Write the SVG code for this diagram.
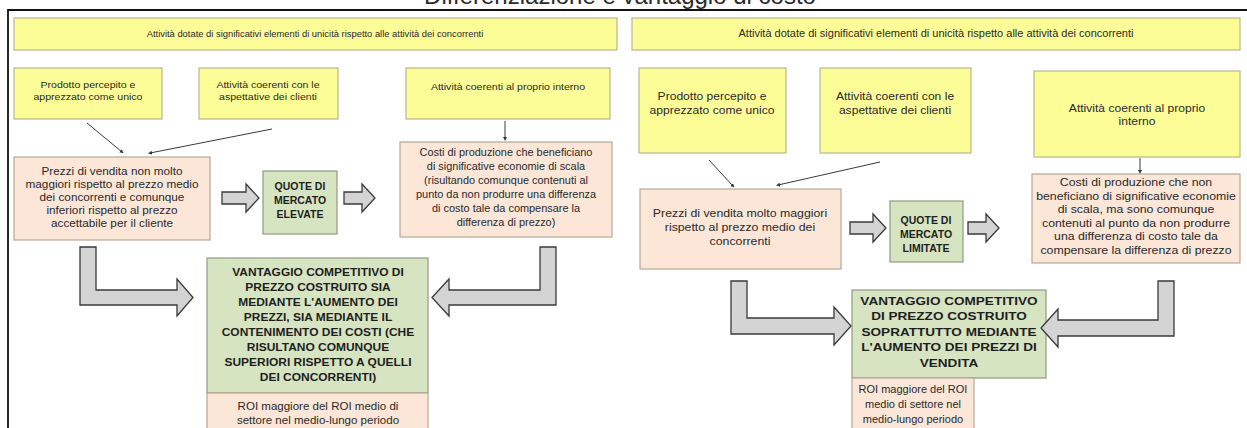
<svg xmlns="http://www.w3.org/2000/svg" width="1247" height="428" viewBox="0 0 1247 428">
  <style>
    .t { font-family: "Liberation Sans", Arial, sans-serif; fill: #2a2a2a; text-anchor: middle;
         transform-box: fill-box; transform-origin: 50% 50%; }
    .s { font-size: 10.5px; }
    .m { font-size: 11px; }
    .sm { font-size: 9.6px; }
    .b { font-size: 10.5px; font-weight: bold; fill: #1e1e1e; }
    .bl { font-size: 11.5px; font-weight: bold; fill: #1e1e1e; }
    .w04 { transform: scaleX(1.04); }
    .w10 { transform: scaleX(1.1); }
    .w12 { transform: scaleX(1.12); }
    .w14 { transform: scaleX(1.14); }
    .w15 { transform: scaleX(1.15); }
    .w18 { transform: scaleX(1.18); }
    .yel { fill: #fdfd98; stroke: #b8b890; stroke-width: 1.2; }
    .sal { fill: #fbe6d8; stroke: #b5a898; stroke-width: 1.2; }
    .grn { fill: #d7e4c2; stroke: #8f9c7e; stroke-width: 1.2; }
    .blk { fill: #d4d4d4; stroke: #3a3a3a; stroke-width: 1.3; stroke-linejoin: miter; }
    .ln { stroke: #3a3a3a; stroke-width: 1; fill: none; marker-end: url(#tip); }
  </style>
  <defs>
    <marker id="tip" viewBox="0 0 6 6" refX="3" refY="3" markerWidth="4" markerHeight="4" orient="auto">
      <path d="M0,0 L6,3 L0,6 Z" fill="#3a3a3a"/>
    </marker>
  </defs>

  <rect width="1247" height="428" fill="#ffffff"/>

  <!-- heading, clipped by the top edge -->
  <text class="t" x="620" y="4" font-size="24" fill="#222">Differenziazione e vantaggio di costo</text>

  <!-- outer frame -->
  <path d="M1247,10 H8 V428" fill="none" stroke="#111" stroke-width="1.8"/>

  <!-- ========== LEFT PANEL ========== -->
  <g id="l-banner">
    <rect class="yel" x="14" y="18" width="603" height="32"/>
    <text class="t" x="315" y="37" font-size="9.4">Attività dotate di significativi elementi di unicità rispetto alle attività dei concorrenti</text>
  </g>
  <g id="l-prodotto">
    <rect class="yel" x="14" y="68" width="148" height="51"/>
    <text class="t sm w10" x="88" y="88">Prodotto percepito e</text>
    <text class="t sm w10" x="88" y="100">apprezzato come unico</text>
  </g>
  <g id="l-clienti">
    <rect class="yel" x="199" y="68" width="139" height="51"/>
    <text class="t sm w10" x="268" y="88">Attività coerenti con le</text>
    <text class="t sm w10" x="268" y="100">aspettative dei clienti</text>
  </g>
  <g id="l-interno">
    <rect class="yel" x="406" y="68" width="204" height="51"/>
    <text class="t sm w10" x="508" y="90">Attività coerenti al proprio interno</text>
  </g>
  <g id="l-prezzi">
    <rect class="sal" x="14" y="157" width="196" height="83"/>
    <text class="t s w12" x="112" y="175">Prezzi di vendita non molto</text>
    <text class="t s w12" x="112" y="188">maggiori rispetto al prezzo medio</text>
    <text class="t s w12" x="112" y="201">dei concorrenti e comunque</text>
    <text class="t s w12" x="112" y="214">inferiori rispetto al prezzo</text>
    <text class="t s w12" x="112" y="227">accettabile per il cliente</text>
  </g>
  <g id="l-quote">
    <rect class="grn" x="263" y="171" width="74" height="63"/>
    <text class="t b" x="300" y="190">QUOTE DI</text>
    <text class="t b" x="300" y="204">MERCATO</text>
    <text class="t b" x="300" y="218">ELEVATE</text>
  </g>
  <g id="l-costi">
    <rect class="sal" x="400" y="142" width="212" height="95"/>
    <text class="t s w04" x="506" y="156">Costi di produzione che beneficiano</text>
    <text class="t s w04" x="506" y="170">di significative economie di scala</text>
    <text class="t s w04" x="506" y="184">(risultando comunque contenuti al</text>
    <text class="t s w04" x="506" y="198">punto da non produrre una differenza</text>
    <text class="t s w04" x="506" y="212">di costo tale da compensare la</text>
    <text class="t s w04" x="506" y="226">differenza di prezzo)</text>
  </g>
  <g id="l-vantaggio">
    <rect class="grn" x="207" y="258" width="221" height="135"/>
    <text class="t b w14" x="318" y="276">VANTAGGIO COMPETITIVO DI</text>
    <text class="t b w14" x="318" y="291">PREZZO COSTRUITO SIA</text>
    <text class="t b w14" x="318" y="306">MEDIANTE L'AUMENTO DEI</text>
    <text class="t b w14" x="318" y="321">PREZZI, SIA MEDIANTE IL</text>
    <text class="t b w14" x="318" y="336">CONTENIMENTO DEI COSTI (CHE</text>
    <text class="t b w14" x="318" y="351">RISULTANO COMUNQUE</text>
    <text class="t b w14" x="318" y="366">SUPERIORI RISPETTO A QUELLI</text>
    <text class="t b w14" x="318" y="381">DEI CONCORRENTI)</text>
  </g>
  <g id="l-roi">
    <rect class="sal" x="207" y="393" width="221" height="40"/>
    <text class="t s w10" x="318" y="410">ROI maggiore del ROI medio di</text>
    <text class="t s w10" x="318" y="424">settore nel medio-lungo periodo</text>
  </g>

  <!-- ========== RIGHT PANEL ========== -->
  <g id="r-banner">
    <rect class="yel" x="632" y="18" width="608" height="32"/>
    <text class="t" x="936" y="37" font-size="11">Attività dotate di significativi elementi di unicità rispetto alle attività dei concorrenti</text>
  </g>
  <g id="r-prodotto">
    <rect class="yel" x="639" y="68" width="147" height="85"/>
    <text class="t m w10" x="712" y="100">Prodotto percepito e</text>
    <text class="t m w10" x="712" y="114">apprezzato come unico</text>
  </g>
  <g id="r-clienti">
    <rect class="yel" x="820" y="68" width="151" height="85"/>
    <text class="t m w10" x="895" y="100">Attività coerenti con le</text>
    <text class="t m w10" x="895" y="114">aspettative dei clienti</text>
  </g>
  <g id="r-interno">
    <rect class="yel" x="1034" y="71" width="206" height="86"/>
    <text class="t m w10" x="1137" y="112">Attività coerenti al proprio</text>
    <text class="t m w10" x="1137" y="125">interno</text>
  </g>
  <g id="r-prezzi">
    <rect class="sal" x="640" y="189" width="201" height="80"/>
    <text class="t m w12" x="740" y="217">Prezzi di vendita molto maggiori</text>
    <text class="t m w12" x="740" y="231">rispetto al prezzo medio dei</text>
    <text class="t m w12" x="740" y="245">concorrenti</text>
  </g>
  <g id="r-quote">
    <rect class="grn" x="890" y="201" width="73" height="61"/>
    <text class="t b" x="926" y="224">QUOTE DI</text>
    <text class="t b" x="926" y="238">MERCATO</text>
    <text class="t b" x="926" y="252">LIMITATE</text>
  </g>
  <g id="r-costi">
    <rect class="sal" x="1032" y="174" width="208" height="89"/>
    <text class="t m w12" x="1136" y="186.5">Costi di produzione che non</text>
    <text class="t m w12" x="1136" y="200">beneficiano di significative economie</text>
    <text class="t m w12" x="1136" y="213.5">di scala, ma sono comunque</text>
    <text class="t m w12" x="1136" y="227">contenuti al punto da non produrre</text>
    <text class="t m w12" x="1136" y="240.5">una differenza di costo tale da</text>
    <text class="t m w12" x="1136" y="254">compensare la differenza di prezzo</text>
  </g>
  <g id="r-vantaggio">
    <rect class="grn" x="852" y="290" width="194" height="88"/>
    <text class="t bl w18" x="949" y="305">VANTAGGIO COMPETITIVO</text>
    <text class="t bl w18" x="949" y="320.5">DI PREZZO COSTRUITO</text>
    <text class="t bl w18" x="949" y="336">SOPRATTUTTO MEDIANTE</text>
    <text class="t bl w18" x="949" y="351.5">L'AUMENTO DEI PREZZI DI</text>
    <text class="t bl w18" x="949" y="367">VENDITA</text>
  </g>
  <g id="r-roi">
    <rect class="sal" x="852" y="378" width="122" height="55"/>
    <text class="t m" x="913" y="393">ROI maggiore del ROI</text>
    <text class="t m" x="913" y="408">medio di settore nel</text>
    <text class="t m" x="913" y="423">medio-lungo periodo</text>
  </g>

  <!-- ========== CONNECTORS ========== -->
  <g id="connectors">
    <!-- thin arrows -->
    <line class="ln" x1="87" y1="123" x2="122" y2="152"/>
    <line class="ln" x1="272" y1="129" x2="150" y2="153"/>
    <line class="ln" x1="505" y1="121" x2="505" y2="139"/>
    <line class="ln" x1="709" y1="160" x2="733" y2="186"/>
    <line class="ln" x1="880" y1="162" x2="778" y2="185"/>
    <line class="ln" x1="1140" y1="158" x2="1140" y2="172"/>

    <!-- block arrows, left panel -->
    <path class="blk" d="M222,192 H246 V184 L259,198 L246,212 V204 H222 Z"/>
    <path class="blk" d="M344,192 H362 V184 L375,198 L362,212 V204 H344 Z"/>
    <path class="blk" d="M80,247 H96 V290 H177 V279 L193,297.5 L177,316 V305 H80 Z"/>
    <path class="blk" d="M540,247 H556 V305 H449 V316 L432,297.5 L449,279 V290 H540 Z"/>

    <!-- block arrows, right panel -->
    <path class="blk" d="M850,222 H873 V214 L886,228 L873,242 V234 H850 Z"/>
    <path class="blk" d="M968,222 H986 V214 L999,228 L986,242 V234 H968 Z"/>
    <path class="blk" d="M731,281 H747 V318 H834 V307 L851,326 L834,345 V334 H731 Z"/>
    <path class="blk" d="M1158,281 H1174 V336 H1058 V347 L1041,328 L1058,309 V320 H1158 Z"/>
  </g>
</svg>
